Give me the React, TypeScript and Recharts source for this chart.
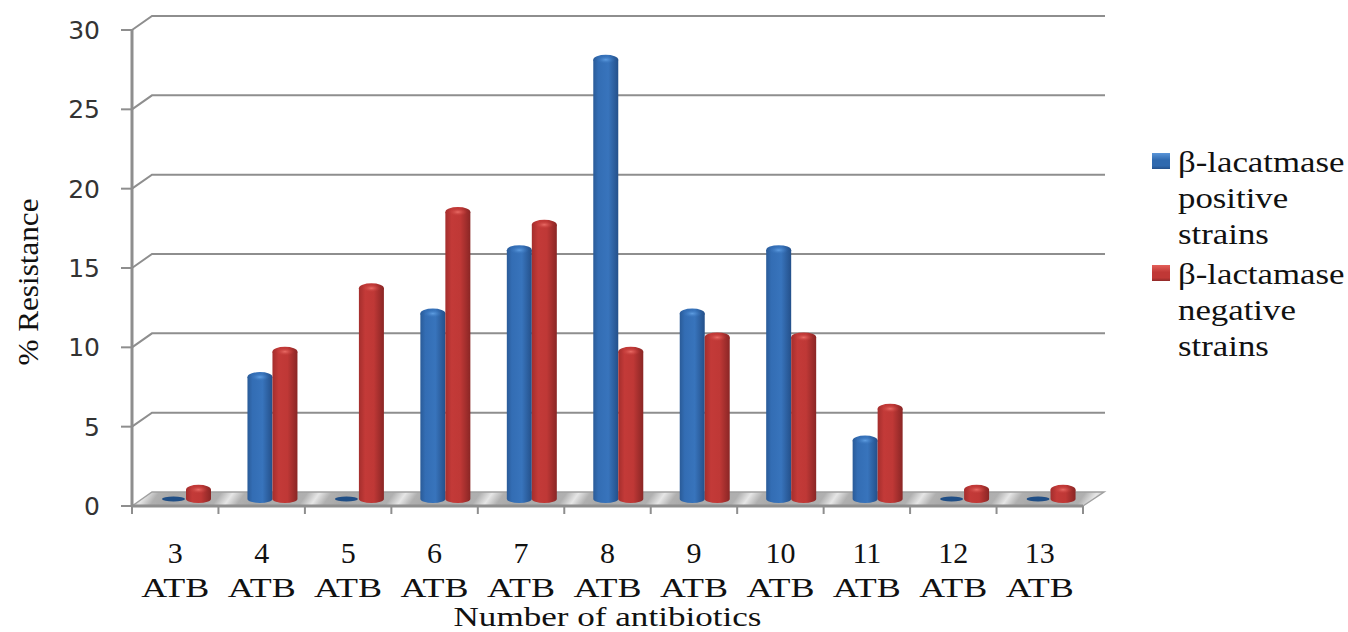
import { Bar, BarChart, CartesianGrid, Legend, XAxis, YAxis } from "recharts";

const categories = ["3", "4", "5", "6", "7", "8", "9", "10", "11", "12", "13"];
const positive = [0, 8, 0, 12, 16, 28, 12, 16, 4, 0, 0];
const negative = [0.9, 9.6, 13.6, 18.4, 17.6, 9.6, 10.5, 10.5, 6, 0.9, 0.9];
const yTicks = [0, 5, 10, 15, 20, 25, 30];
const positiveName = "β-lacatmase positive strains";
const negativeName = "β-lactamase negative strains";

const data = categories.map((c, i) => ({ name: c, positive: positive[i], negative: negative[i] }));

const SERIF = "'Liberation Serif', serif";
const AXIS = "#8e8e8e";

// 3D look: bars are pushed back onto the floor, same as the old Excel cylinders
const DX = 11;
const BASE_LIFT = 7;

function Cylinder(props: any) {
  const { x, y, width, height, value, id } = props;
  const left = x + DX;
  const cx = left + width / 2;
  const rx = width / 2;
  const base = y + height - BASE_LIFT;
  if (!value) {
    return <ellipse cx={cx} cy={base} rx={rx - 1} ry={2.5} fill="#1f4e86" />;
  }
  const top = y - 2;
  const ry = 5;
  return (
    <g>
      <path
        d={`M${left},${top} L${left},${base} A${rx},${ry - 1} 0 0 0 ${left + width},${base} L${left + width},${top} Z`}
        fill={`url(#body-${id})`}
      />
      <ellipse cx={cx} cy={top} rx={rx} ry={ry} fill={`url(#body-${id})`} />
      <ellipse cx={cx} cy={top} rx={rx - 3} ry={ry - 1} fill={`url(#cap-${id})`} />
    </g>
  );
}

function Gradients() {
  return (
    <defs>
      <linearGradient id="body-pos" x1="0" y1="0" x2="1" y2="0">
        <stop offset="0%" stopColor="#2a5b98" />
        <stop offset="20%" stopColor="#336db4" />
        <stop offset="60%" stopColor="#3874bc" />
        <stop offset="100%" stopColor="#24508a" />
      </linearGradient>
      <radialGradient id="cap-pos">
        <stop offset="0%" stopColor="#5f9ee2" />
        <stop offset="100%" stopColor="#3874bc" stopOpacity={0} />
      </radialGradient>
      <linearGradient id="body-neg" x1="0" y1="0" x2="1" y2="0">
        <stop offset="0%" stopColor="#a42e2d" />
        <stop offset="25%" stopColor="#c33a38" />
        <stop offset="60%" stopColor="#bf3836" />
        <stop offset="100%" stopColor="#8a2625" />
      </linearGradient>
      <radialGradient id="cap-neg">
        <stop offset="0%" stopColor="#ea6c66" />
        <stop offset="100%" stopColor="#c33a38" stopOpacity={0} />
      </radialGradient>
      <linearGradient id="floor" x1="0" y1="0" x2="70.8" y2="0" gradientUnits="userSpaceOnUse" spreadMethod="repeat" gradientTransform="rotate(35)">
        <stop offset="0%" stopColor="#a8a8a8" />
        <stop offset="55%" stopColor="#b0b0b0" />
        <stop offset="69%" stopColor="#e6e6e6" />
        <stop offset="83%" stopColor="#b0b0b0" />
        <stop offset="100%" stopColor="#a8a8a8" />
      </linearGradient>
    </defs>
  );
}

// grid lines bend back along the side wall; the lowest one is the floor
function WallLine(props: any) {
  const { x1, x2, y1, index } = props;
  if (y1 > 500) {
    return (
      <g key={`floor-${index}`}>
        <polygon points={`${x1},${y1} ${x1 + 20},${y1 - 14} ${x2 + 21},${y1 - 14} ${x2},${y1}`} fill="url(#floor)" />
        <path d={`M${x1},${y1} L${x1 + 20},${y1 - 14} L${x2 + 21},${y1 - 14} L${x2},${y1}`} fill="none" stroke="#a0a0a0" strokeWidth={1.5} />
      </g>
    );
  }
  return (
    <path
      key={`wall-${index}`}
      d={`M${x1},${y1} L${x1 + 20},${y1 - 14} L${x2 + 22},${y1 - 14}`}
      fill="none"
      stroke={AXIS}
      strokeWidth={2}
    />
  );
}

// ticks sit between the categories, so they are drawn with the label
function CategoryTick(props: any) {
  const { x, y, payload, width, index, visibleTicksCount } = props;
  const half = width / visibleTicksCount / 2;
  const isLast = index === visibleTicksCount - 1;
  return (
    <g>
      <line x1={x - half} x2={x - half} y1={y - 10} y2={y - 2} stroke={AXIS} strokeWidth={2} />
      {isLast && <line x1={x + half} x2={x + half} y1={y - 10} y2={y - 2} stroke={AXIS} strokeWidth={2} />}
      <text x={x} y={y} textAnchor="middle" fontFamily={SERIF} fontSize={30} fill="#111">
        <tspan x={x} dy={47}>{payload.value}</tspan>
      </text>
      <text x={x} y={y + 81} textAnchor="middle" fontFamily={SERIF} fontSize={28} fill="#111" textLength={68} lengthAdjust="spacingAndGlyphs">
        ATB
      </text>
    </g>
  );
}

function XTitle(props: any) {
  const { viewBox } = props;
  return (
    <text
      x={viewBox.x + viewBox.width / 2}
      y={viewBox.y + 120}
      textAnchor="middle"
      fontFamily={SERIF}
      fontSize={28}
      fill="#111"
      textLength={308}
      lengthAdjust="spacingAndGlyphs"
    >
      Number of antibiotics
    </text>
  );
}

function YTitle() {
  return (
    <text
      transform="translate(38,282) rotate(-90)"
      textAnchor="middle"
      fontFamily={SERIF}
      fontSize={29}
      fill="#111"
      textLength={167}
      lengthAdjust="spacingAndGlyphs"
    >
      % Resistance
    </text>
  );
}

function LegendBox() {
  const rows = [
    { key: "pos", light: "#5a95d8", mid: "#2f69ae", dark: "#24508a", lines: ["β-lacatmase", "positive", "strains"] },
    { key: "neg", light: "#e4605a", mid: "#c03836", dark: "#8f2928", lines: ["β-lactamase", "negative", "strains"] },
  ];
  return (
    <div style={{ fontFamily: SERIF, fontSize: 30, lineHeight: "36px", color: "#111" }}>
      {rows.map((r) => (
        <div key={r.key} style={{ position: "relative", paddingLeft: 26, marginBottom: 4 }}>
          <span
            style={{
              position: "absolute",
              left: 0,
              top: 9,
              width: 18,
              height: 16,
              background: `linear-gradient(${r.light}, ${r.mid} 45%, ${r.mid} 80%, ${r.dark})`,
            }}
          />
          {r.lines.map((l) => (
            <div key={l} style={{ whiteSpace: "nowrap", transform: "scaleX(1.16)", transformOrigin: "left" }}>{l}</div>
          ))}
        </div>
      ))}
    </div>
  );
}

export default function App() {
  return (
    <div style={{ position: "absolute", left: 0, top: 0, width: 1348, height: 632, background: "#fff" }}>
      <BarChart
        width={1348}
        height={632}
        data={data}
        barSize={25}
        barGap={0}
        margin={{ top: 30, right: 69, bottom: 0, left: 0 }}
      >
        <Gradients />
        <CartesianGrid vertical={false} horizontal={WallLine} />
        <XAxis
          dataKey="name"
          tick={<CategoryTick />}
          tickLine={false}
          axisLine={{ stroke: AXIS, strokeWidth: 3 }}
          tickSize={8}
          interval={0}
          height={126}
          label={<XTitle />}
        />
        <YAxis
          domain={[0, 30]}
          ticks={yTicks}
          width={132}
          tick={{ fontFamily: "'DejaVu Sans', sans-serif", fontSize: 25, fill: "#333" }}
          tickLine={{ stroke: AXIS, strokeWidth: 2 }}
          axisLine={{ stroke: AXIS, strokeWidth: 3 }}
          tickSize={11}
          tickMargin={21}
          label={<YTitle />}
        />
        <Legend
          layout="vertical"
          align="right"
          verticalAlign="top"
          content={<LegendBox />}
          wrapperStyle={{ position: "absolute", left: 1152, top: 144, width: 196 }}
        />
        <Bar dataKey="positive" name={positiveName} shape={(p: any) => <Cylinder {...p} id="pos" />} isAnimationActive={false} />
        <Bar dataKey="negative" name={negativeName} shape={(p: any) => <Cylinder {...p} id="neg" />} isAnimationActive={false} />
      </BarChart>
    </div>
  );
}
